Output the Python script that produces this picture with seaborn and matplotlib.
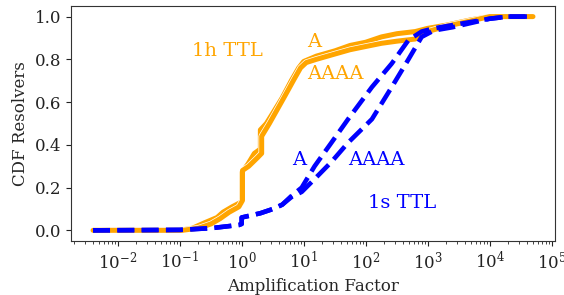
import numpy as np
import pandas as pd
import matplotlib
matplotlib.use("Agg")
import matplotlib.pyplot as plt
import matplotlib.ticker as mticker
import matplotlib.patheffects as pe
import seaborn as sns

sns.set_style("ticks")
plt.rcParams['font.family'] = ['DejaVu Serif']
plt.rcParams['mathtext.fontset'] = 'dejavuserif'

# CDF curves (amplification factor, fraction of resolvers)
ttl1h_a_x = [0.004, 0.1, 0.16, 0.25, 0.4, 0.5, 0.7, 0.95, 1.0, 1.0, 1.26, 1.6, 2.0, 2.0,
             2.5, 3.2, 4.5, 6.3, 8.3, 10, 16, 32, 56, 100, 180, 320, 630, 1000, 2000,
             5000, 10000, 50000]
ttl1h_a_y = [0.0, 0.0, 0.01, 0.035, 0.06, 0.085, 0.11, 0.13, 0.13, 0.27, 0.31, 0.36, 0.38,
             0.47, 0.50, 0.55, 0.62, 0.70, 0.76, 0.79, 0.815, 0.84, 0.865, 0.88, 0.905,
             0.92, 0.93, 0.945, 0.96, 0.985, 1.0, 1.0]

ttl1h_aaaa_x = [0.004, 0.11, 0.2, 0.32, 0.45, 0.63, 0.9, 1.03, 1.03, 1.3, 1.8, 2.1, 2.1,
                2.8, 3.5, 5.0, 7.1, 8.9, 11, 16, 32, 56, 100, 180, 320, 630, 1000, 2000,
                5000, 10000, 50000]
ttl1h_aaaa_y = [0.0, 0.0, 0.01, 0.03, 0.055, 0.085, 0.11, 0.14, 0.28, 0.30, 0.34, 0.36,
                0.44, 0.50, 0.55, 0.63, 0.71, 0.76, 0.785, 0.80, 0.825, 0.845, 0.86, 0.875,
                0.885, 0.895, 0.93, 0.955, 0.98, 1.0, 1.0]

ttl1s_a_x = [0.004, 0.1, 0.32, 0.9, 1.0, 1.0, 2.0, 3.2, 4.5, 6.3, 9.3, 15, 28, 52, 126,
             263, 490, 800, 1260, 2500, 5000, 10000, 20000, 49000]
ttl1s_a_y = [0.0, 0.002, 0.01, 0.025, 0.03, 0.06, 0.08, 0.10, 0.12, 0.16, 0.20, 0.30,
             0.41, 0.52, 0.67, 0.78, 0.89, 0.93, 0.945, 0.96, 0.975, 0.99, 1.0, 1.0]

ttl1s_aaaa_x = [0.004, 0.1, 0.32, 0.9, 1.0, 1.0, 2.0, 3.2, 4.5, 6.3, 9.3, 15, 28, 52, 126,
                263, 490, 800, 1260, 2500, 5000, 10000, 20000, 49000]
ttl1s_aaaa_y = [0.0, 0.002, 0.01, 0.025, 0.03, 0.06, 0.08, 0.10, 0.12, 0.155, 0.18, 0.24,
                0.32, 0.41, 0.52, 0.67, 0.80, 0.905, 0.935, 0.95, 0.97, 0.99, 1.0, 1.0]

x_ticks = [1e-2, 1e-1, 1e0, 1e1, 1e2, 1e3, 1e4, 1e5]
y_ticks = [0.0, 0.2, 0.4, 0.6, 0.8, 1.0]

ORANGE = '#FFA500'
BLUE = '#0000FF'
edge = [pe.Stroke(linewidth=4.6, foreground='white'), pe.Normal()]

fig = plt.figure(figsize=(5.64, 2.95), dpi=100)
ax = fig.add_axes([0.126, 0.183, 0.858, 0.797])

for xs, ys in [(ttl1h_a_x, ttl1h_a_y), (ttl1h_aaaa_x, ttl1h_aaaa_y)]:
    sns.lineplot(x=xs, y=ys, ax=ax, color=ORANGE, lw=3.6, estimator=None, sort=False,
                 path_effects=edge)
for xs, ys in [(ttl1s_a_x, ttl1s_a_y), (ttl1s_aaaa_x, ttl1s_aaaa_y)]:
    sns.lineplot(x=xs, y=ys, ax=ax, color=BLUE, lw=3.3, linestyle='--',
                 estimator=None, sort=False)

ax.set_xscale('log')
ax.set_xticks(x_ticks)
ax.xaxis.set_minor_locator(mticker.LogLocator(base=10, subs=np.arange(2, 10), numticks=20))
ax.xaxis.set_minor_formatter(mticker.NullFormatter())
ax.set_yticks(y_ticks)

ax.set_xlabel('Amplification Factor', fontsize=12)
ax.set_ylabel('CDF Resolvers', fontsize=12)
ax.tick_params(axis='both', labelsize=12, colors='#222222')
for s in ax.spines.values():
    s.set_color('#333333')

ax.text(0.155, 0.84, '1h TTL', color=ORANGE, fontsize=14, va='center')
ax.text(11.2, 0.88, 'A', color=ORANGE, fontsize=14, va='center')
ax.text(11.2, 0.73, 'AAAA', color=ORANGE, fontsize=14, va='center')
ax.text(6.4, 0.33, 'A', color=BLUE, fontsize=14, va='center')
ax.text(53, 0.33, 'AAAA', color=BLUE, fontsize=14, va='center')
ax.text(108, 0.13, '1s TTL', color=BLUE, fontsize=14, va='center')

fig.savefig('out.png', dpi=100)
